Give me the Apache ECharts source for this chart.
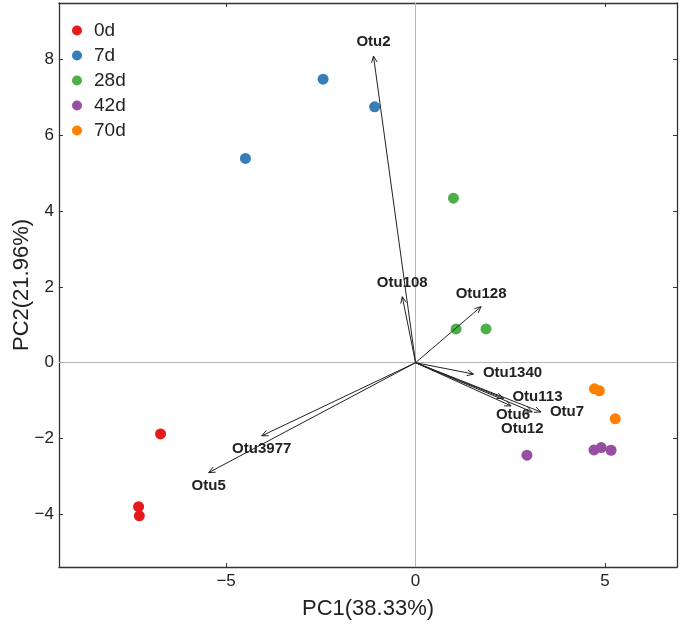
<!DOCTYPE html>
<html>
<head>
<meta charset="utf-8">
<script src="https://cdn.jsdelivr.net/npm/echarts@6/dist/echarts.min.js"></script>
<style>html,body{margin:0;padding:0;background:#fff}#chart{width:680px;height:625px}</style>
</head>
<body>
<div id="chart"></div>
<script>
// ---- data ----
const categories = ['0d', '7d', '28d', '42d', '70d'];
const pc1_0d = [-6.73, -7.31, -7.29];
const pc2_0d = [-1.88, -3.80, -4.04];
const pc1_7d = [-2.44, -1.08, -4.49];
const pc2_7d = [7.48, 6.75, 5.39];
const pc1_28d = [1.00, 1.07, 1.86];
const pc2_28d = [4.34, 0.89, 0.89];
const pc1_42d = [2.94, 4.71, 4.90, 5.16];
const pc2_42d = [-2.44, -2.30, -2.24, -2.31];
const pc1_70d = [4.72, 4.85, 5.27];
const pc2_70d = [-0.69, -0.74, -1.48];

const loadingNames = ['Otu2', 'Otu108', 'Otu128', 'Otu1340', 'Otu113', 'Otu7', 'Otu6', 'Otu12', 'Otu3977', 'Otu5'];
const loadingPC1 = [-1.11, -0.35, 1.73, 1.53, 2.32, 3.31, 2.52, 3.08, -4.06, -5.46];
const loadingPC2 = [8.09, 1.74, 1.48, -0.30, -0.94, -1.30, -1.14, -1.30, -1.93, -2.90];

const xTicks = [-5, 0, 5];
const yTicks = [-4, -2, 0, 2, 4, 6, 8];
const xTitle = 'PC1(38.33%)';
const yTitle = 'PC2(21.96%)';

// ---- style ----
const colors = ['#E41A1C', '#377EB8', '#4DAF4A', '#984EA3', '#FF7F00'];
const labelOffsets = {
  Otu2: [0, -14], Otu108: [0, -14], Otu128: [0, -13], Otu1340: [39, -1],
  Otu113: [34, -1], Otu7: [26, 0], Otu6: [2, 9], Otu12: [-10, 17],
  Otu3977: [0, 13], Otu5: [0, 13]
};
const FONT = '"Liberation Sans", Arial, Helvetica, sans-serif';
const frameColor = '#333';

const groupX = [pc1_0d, pc1_7d, pc1_28d, pc1_42d, pc1_70d];
const groupY = [pc2_0d, pc2_7d, pc2_28d, pc2_42d, pc2_70d];

const fmt = v => String(v).replace('-', '\u2212');

function axisCommon(extra) {
  return Object.assign({
    type: 'value',
    axisLine: { show: true, onZero: false, lineStyle: { color: frameColor, width: 1.3 } },
    splitLine: { show: false },
  }, extra);
}

const xMin = -9.41, xMax = 6.90, yMin = -5.39, yMax = 9.49;

const scatterSeries = categories.map((c, gi) => ({
  name: c,
  type: 'scatter',
  symbol: 'circle',
  symbolSize: 11,
  itemStyle: { color: colors[gi], opacity: 1 },
  z: 3,
  data: groupX[gi].map((x, i) => [x, groupY[gi][i]])
}));

scatterSeries[0].markLine = {
  silent: true,
  symbol: ['none', 'none'],
  label: { show: false },
  lineStyle: { color: '#b4b4b4', width: 1, type: 'solid' },
  z: 1,
  data: [{ xAxis: 0 }, { yAxis: 0 }]
};

const arrowSeries = {
  type: 'custom',
  name: 'loadings',
  z: 5,
  silent: true,
  data: loadingNames.map((n, i) => [loadingPC1[i], loadingPC2[i]]),
  encode: { x: 0, y: 1 },
  renderItem: function (params, api) {
    const p0 = api.coord([0, 0]);
    const p1 = api.coord([api.value(0), api.value(1)]);
    const ang = Math.atan2(p1[1] - p0[1], p1[0] - p0[0]);
    const L = 7, sp = 0.42;
    const h1 = [p1[0] - L * Math.cos(ang - sp), p1[1] - L * Math.sin(ang - sp)];
    const h2 = [p1[0] - L * Math.cos(ang + sp), p1[1] - L * Math.sin(ang + sp)];
    const name = loadingNames[params.dataIndex];
    const off = labelOffsets[name] || [0, 0];
    return {
      type: 'group',
      children: [
        { type: 'line', shape: { x1: p0[0], y1: p0[1], x2: p1[0], y2: p1[1] },
          style: { stroke: '#222', lineWidth: 1 } },
        { type: 'polyline', shape: { points: [h1, p1, h2] },
          style: { stroke: '#222', lineWidth: 1, fill: null } },
        { type: 'text', style: { text: name, x: p1[0] + off[0], y: p1[1] + off[1],
          align: 'center', verticalAlign: 'middle', fill: '#222',
          font: 'bold 15px ' + FONT } }
      ]
    };
  }
};

const option = {
  animation: false,
  backgroundColor: '#fff',
  grid: { left: 59, right: 3, top: 3, bottom: 58, containLabel: false, outerBoundsMode: 'none' },
  legend: {
    orient: 'vertical',
    left: 67, top: 16,
    data: categories,
    icon: 'circle',
    itemWidth: 10, itemHeight: 10,
    itemGap: 6,
    textStyle: { fontSize: 19, lineHeight: 18, color: '#222', fontFamily: FONT, padding: [0, 0, 0, 7] }
  },
  xAxis: [
    axisCommon({
      min: xMin, max: xMax, position: 'bottom',
      axisTick: { show: true, inside: true, length: 4, customValues: xTicks, lineStyle: { color: frameColor } },
      axisLabel: { show: true, customValues: xTicks, formatter: fmt, fontSize: 17, color: '#222', fontFamily: FONT, margin: 6 },
      name: xTitle, nameLocation: 'middle', nameGap: 31,
      nameTextStyle: { fontSize: 22, color: '#222', fontFamily: FONT }
    }),
    axisCommon({
      min: xMin, max: xMax, position: 'top',
      axisTick: { show: true, inside: true, length: 4, customValues: xTicks, lineStyle: { color: frameColor } },
      axisLabel: { show: false }
    })
  ],
  yAxis: [
    axisCommon({
      min: yMin, max: yMax, position: 'left',
      axisTick: { show: true, inside: true, length: 4, customValues: yTicks, lineStyle: { color: frameColor } },
      axisLabel: { show: true, customValues: yTicks, formatter: fmt, fontSize: 17, color: '#222', fontFamily: FONT, margin: 5 },
      name: yTitle, nameLocation: 'middle', nameGap: 26, nameRotate: 90, nameMoveOverlap: false,
      nameTextStyle: { fontSize: 22, color: '#222', fontFamily: FONT }
    }),
    axisCommon({
      min: yMin, max: yMax, position: 'right',
      axisTick: { show: true, inside: true, length: 4, customValues: yTicks, lineStyle: { color: frameColor } },
      axisLabel: { show: false }
    })
  ],
  series: scatterSeries.concat([arrowSeries])
};

const chart = echarts.init(document.getElementById('chart'), null, { renderer: 'canvas' });
chart.setOption(option);
</script>
</body>
</html>
